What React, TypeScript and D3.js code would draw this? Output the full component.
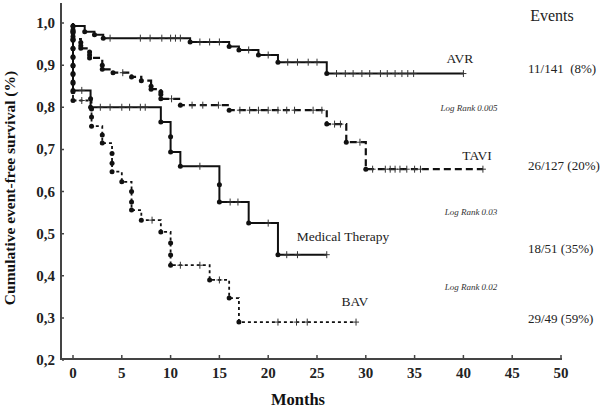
import React from "react";
import * as d3 from "d3";

// ---- data ----
const avrTimes = [0, 1.2, 2.2, 3.1, 12, 16, 17, 19, 21, 26];
const avrValues = [0.993, 0.979, 0.972, 0.964, 0.955, 0.944, 0.936, 0.924, 0.907, 0.88];
const avrCensor = [3.8, 6.9, 7.9, 9.1, 10, 10.5, 11, 13, 14, 15, 18, 20, 22, 23, 24.1, 25, 27, 27.9, 28.7, 29.6, 30.4, 31.5, 32.2, 33, 33.7, 34.3, 34.9, 40];
const avrEnd = 40;

const taviTimes = [0, 0, 0, 0, 0, 0.8, 0.8, 0.8, 1.7, 1.7, 1.7, 3, 3, 4.1, 6, 7, 8, 8, 9, 9, 9, 11, 16, 26, 28, 30];
const taviValues = [0.992, 0.984, 0.976, 0.968, 0.962, 0.954, 0.946, 0.94, 0.931, 0.924, 0.917, 0.9, 0.89, 0.882, 0.872, 0.863, 0.85, 0.843, 0.836, 0.83, 0.82, 0.805, 0.793, 0.76, 0.717, 0.653];
const taviCensor = [5.1, 10.1, 12.2, 13.3, 14.9, 17.1, 18.1, 19, 20, 21, 21.9, 22.7, 24.6, 25.5, 26.8, 27.4, 29.4, 30.7, 32, 32.5, 33, 33.5, 34.2, 35, 35.6, 42];
const taviEnd = 42;

const mtTimes = [0, 0, 0, 0, 0, 0, 0, 0, 1.8, 1.8, 9, 10, 10, 11, 15, 15, 18, 21];
const mtValues = [0.98, 0.96, 0.94, 0.92, 0.9, 0.88, 0.86, 0.84, 0.82, 0.8, 0.765, 0.73, 0.694, 0.66, 0.616, 0.575, 0.525, 0.45];
const mtCensor = [0.9, 2.8, 3.8, 5, 5.8, 6.9, 7.4, 13, 16.1, 16.9, 20, 21.9, 23, 26];
const mtEnd = 26;

const bavTimes = [0, 0, 0, 0, 0, 0, 0, 0, 0, 1.9, 1.9, 1.9, 3, 3, 4, 4, 4, 5, 6, 6, 6, 7, 9, 10, 10, 10, 14, 16, 17];
const bavValues = [0.98, 0.959, 0.939, 0.918, 0.898, 0.878, 0.857, 0.837, 0.816, 0.796, 0.777, 0.755, 0.734, 0.715, 0.69, 0.667, 0.647, 0.623, 0.6, 0.575, 0.556, 0.532, 0.504, 0.478, 0.449, 0.425, 0.39, 0.347, 0.29];
const bavCensor = [0.9, 8.1, 11, 13, 15, 21, 22.9, 24, 29];
const bavEnd = 29;

const xTicks = [0, 5, 10, 15, 20, 25, 30, 35, 40, 45, 50];
const yTicks = [0.2, 0.3, 0.4, 0.5, 0.6, 0.7, 0.8, 0.9, 1.0];

const seriesNames = ["AVR", "TAVI", "Medical Therapy", "BAV"];
const eventLabels = ["11/141  (8%)", "26/127 (20%)", "18/51 (35%)", "29/49 (59%)"];
const logRankLabels = ["Log Rank 0.005", "Log Rank 0.03", "Log Rank 0.02"];

const W = 600;
const H = 410;
const x = d3.scaleLinear().domain([0, 50]).range([73, 561]);
const y = d3.scaleLinear().domain([0.2, 1.0]).range([360, 23]);

type Series = {
  name: string;
  times: number[];
  values: number[];
  censor: number[];
  end: number;
  dash: string | undefined;
  width: number;
};

const series: Series[] = [
  { name: seriesNames[0], times: avrTimes, values: avrValues, censor: avrCensor, end: avrEnd, dash: undefined, width: 2 },
  { name: seriesNames[1], times: taviTimes, values: taviValues, censor: taviCensor, end: taviEnd, dash: "7,4", width: 2.2 },
  { name: seriesNames[2], times: mtTimes, values: mtValues, censor: mtCensor, end: mtEnd, dash: undefined, width: 2 },
  { name: seriesNames[3], times: bavTimes, values: bavValues, censor: bavCensor, end: bavEnd, dash: "3,3", width: 1.8 },
];

function levelAt(s: Series, t: number): number {
  let v = 1;
  for (let i = 0; i < s.times.length; i++) if (s.times[i] <= t) v = s.values[i];
  return v;
}

const line = d3
  .line<[number, number]>()
  .x((d) => x(d[0]))
  .y((d) => y(d[1]))
  .curve(d3.curveStepAfter);

function pathFor(s: Series): string {
  const pts: [number, number][] = [[0, 1]];
  s.times.forEach((t, i) => pts.push([t, s.values[i]]));
  pts.push([s.end, s.values[s.values.length - 1]]);
  return line(pts) || "";
}

const serif = "'Liberation Serif', 'Times New Roman', serif";

export default function App() {
  return (
    <svg width={W} height={H} style={{ position: "absolute", left: 0, top: 0, background: "#fff" }} fontFamily={serif}>
      {/* axes */}
      <line x1={61} y1={3} x2={61} y2={360} stroke="#444" strokeWidth={2} />
      <line x1={60} y1={359} x2={562} y2={359} stroke="#444" strokeWidth={2} />
      {xTicks.map((t) => (
        <g key={"xt" + t}>
          <line x1={x(t)} x2={x(t)} y1={358} y2={355} stroke="#444" strokeWidth={1.5} />
          <text x={x(t)} y={378} textAnchor="middle" fontSize={15} fontWeight="bold" fill="#222">
            {String(t)}
          </text>
        </g>
      ))}
      {yTicks.map((t) => (
        <g key={"yt" + t}>
          <line x1={62} x2={64} y1={y(t)} y2={y(t)} stroke="#444" strokeWidth={1.5} />
          <text x={55} y={y(t) + 5} textAnchor="end" fontSize={15} fontWeight="bold" fill="#222">
            {t.toFixed(1).replace(".", ",")}
          </text>
        </g>
      ))}
      <text
        transform="translate(15,188) rotate(-90)"
        textAnchor="middle"
        fontSize={15.5}
        fontWeight="bold"
        fill="#111"
      >
        Cumulative event-free survival (%)
      </text>
      <text x={298} y={405} textAnchor="middle" fontSize={16.5} fontWeight="bold" fill="#111">
        Months
      </text>

      {/* curves */}
      {series.map((s) => (
        <g key={s.name}>
          <path d={pathFor(s)} fill="none" stroke="#111" strokeWidth={s.width} strokeDasharray={s.dash} />
          {s.times.map((t, i) => (
            <circle key={"d" + i} cx={x(t)} cy={y(s.values[i])} r={2.5} fill="#111" />
          ))}
          {s.censor.map((t, i) => {
            const cx = x(t);
            const cy = y(levelAt(s, t));
            return (
              <g key={"c" + i} stroke="#333" strokeWidth={1}>
                <line x1={cx} x2={cx} y1={cy - 3.5} y2={cy + 3.5} />
                <line x1={cx - 3} x2={cx + 3} y1={cy} y2={cy} />
              </g>
            );
          })}
        </g>
      ))}

      {/* labels */}
      <text x={552} y={21} textAnchor="middle" fontSize={16} fill="#222">Events</text>
      <text x={460} y={63} textAnchor="middle" fontSize={13.5} fill="#222">{seriesNames[0]}</text>
      <text x={477} y={160} textAnchor="middle" fontSize={13.5} fill="#222">{seriesNames[1]}</text>
      <text x={343} y={241} textAnchor="middle" fontSize={13.5} fill="#222">{seriesNames[2]}</text>
      <text x={355} y={306} textAnchor="middle" fontSize={13.5} fill="#222">{seriesNames[3]}</text>

      <text x={528} y={73} fontSize={13} fill="#222" style={{ whiteSpace: "pre" }}>{eventLabels[0]}</text>
      <text x={528} y={170} fontSize={13} fill="#222">{eventLabels[1]}</text>
      <text x={528} y={253} fontSize={13} fill="#222">{eventLabels[2]}</text>
      <text x={528} y={323} fontSize={13} fill="#222">{eventLabels[3]}</text>

      <text x={469} y={111} textAnchor="middle" fontSize={9} fontStyle="italic" fill="#333">{logRankLabels[0]}</text>
      <text x={471} y={215} textAnchor="middle" fontSize={9} fontStyle="italic" fill="#333">{logRankLabels[1]}</text>
      <text x={471} y={290} textAnchor="middle" fontSize={9} fontStyle="italic" fill="#333">{logRankLabels[2]}</text>
    </svg>
  );
}
